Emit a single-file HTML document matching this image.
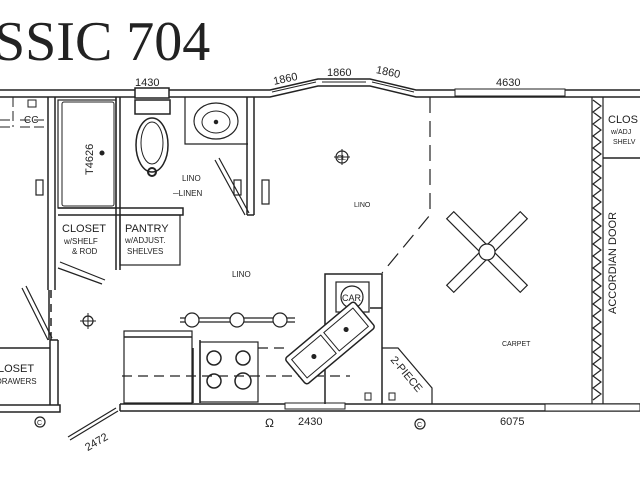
<!DOCTYPE html>
<html><head><meta charset="utf-8"><style>
html,body{margin:0;padding:0;background:#fff;width:640px;height:480px;overflow:hidden}
svg{display:block}
text{font-family:"Liberation Sans",sans-serif;fill:#222}
</style></head><body>
<svg width="640" height="480" viewBox="0 0 640 480" xmlns="http://www.w3.org/2000/svg" stroke="#222" fill="none" stroke-width="1.5">
<text x="-6" y="60" font-size="56" stroke="none" style="font-family:'Liberation Serif',serif">SSIC 704</text>
<!-- top wall -->
<path d="M0 90 H270 L318 79 H370 L416 90 H640 M0 97 H270 L318 86 H370 L416 97 H640" />
<rect x="135" y="88" width="34" height="10" fill="#fff"/>
<path d="M272 92 L316 82 M372 82 L414 92 M322 82 H366" stroke-width="1"/>
<rect x="455" y="89" width="110" height="7" fill="#fff" stroke-width="1"/>
<text x="135" y="86" font-size="11" stroke="none">1430</text>
<text x="273" y="82" font-size="11" stroke="none" transform="rotate(-12 287 78)">1860</text>
<text x="327" y="76" font-size="11" stroke="none">1860</text>
<text x="376" y="76" font-size="11" stroke="none" transform="rotate(12 390 72)">1860</text>
<text x="496" y="86" font-size="11" stroke="none">4630</text>
<!-- bottom wall -->
<path d="M0 405 H60 V412 H0 M120 404 H640 M120 411 H640 M120 404 V411" />
<rect x="285" y="403" width="60" height="6" fill="#fff" stroke-width="1"/>
<rect x="545" y="404" width="95" height="7" fill="#fff" stroke-width="1"/>
<text x="298" y="425" font-size="11" stroke="none">2430</text>
<text x="500" y="425" font-size="11" stroke="none">6075</text>
<path d="M118 411 L70 440 M116 408 L68 437" stroke-width="1.2"/>
<text x="83" y="446" font-size="11" stroke="none" transform="rotate(-30 95 440)">2472</text>
<!-- left -->
<path d="M48 97 V290 M55 97 V290 M49 290 V340" />
<path d="M51 290 V345" stroke-dasharray="8 6"/>
<path d="M0 120 H12 M0 127 H12 M13 97 V127 M20 127 H47 M20 120 H47" stroke-dasharray="10 4" stroke-width="1"/>
<rect x="28" y="100" width="8" height="7" stroke-width="1"/>
<text x="24" y="123" font-size="10" stroke="none">CC</text>
<rect x="36" y="180" width="7" height="15" stroke-width="1.2"/>
<!-- tub -->
<rect x="58" y="100" width="58" height="108" stroke-width="1.2"/>
<rect x="62" y="102" width="52" height="104" rx="2" stroke-width="1"/>
<circle cx="102" cy="153" r="1.8" fill="#222"/>
<text x="0" y="0" font-size="11" stroke="none" transform="translate(93 175) rotate(-90)">T4626</text>
<path d="M116 97 V270 M120 97 V270" />
<path d="M58 208 H183 V215 H58" />
<text x="62" y="232" font-size="11" stroke="none">CLOSET</text>
<text x="64" y="244" font-size="8" stroke="none">w/SHELF</text>
<text x="72" y="254" font-size="8" stroke="none">&amp; ROD</text>
<rect x="120" y="215" width="60" height="50" stroke-width="1.2"/>
<text x="125" y="232" font-size="11" stroke="none">PANTRY</text>
<text x="125" y="243" font-size="8" stroke="none">w/ADJUST.</text>
<text x="127" y="254" font-size="8" stroke="none">SHELVES</text>
<path d="M60 262 L105 280 M58 268 L102 284" stroke-width="1.2"/>
<!-- toilet -->
<rect x="135" y="100" width="35" height="14" stroke-width="1.5"/>
<ellipse cx="152" cy="145" rx="16" ry="27" stroke-width="1.5"/>
<ellipse cx="152" cy="143" rx="11" ry="21" stroke-width="1"/>
<circle cx="152" cy="172" r="4" stroke-width="2"/>
<text x="182" y="181" font-size="8" stroke="none">LINO</text>
<text x="173" y="196" font-size="8" stroke="none">─LINEN</text>
<!-- sink -->
<path d="M185 97 V144 H248" stroke-width="1.2"/>
<ellipse cx="216" cy="121" rx="22" ry="18" stroke-width="1.2"/>
<ellipse cx="216" cy="122" rx="14" ry="11" stroke-width="1"/>
<circle cx="216" cy="122" r="1.5" fill="#222"/>
<path d="M247 97 V215 M254 97 V215 M247 215 H254"/>
<path d="M215 160 L245 215 M219 158 L249 213" stroke-width="1.2"/>
<rect x="234" y="180" width="7" height="15" stroke-width="1.2"/>
<rect x="262" y="180" width="7" height="24" stroke-width="1.2"/>
<text x="232" y="277" font-size="8" stroke="none">LINO</text>
<!-- dividers -->
<path d="M430 97 V215 L382 273" stroke-dasharray="16 8" stroke-width="1.2"/>
<text x="354" y="207" font-size="7" stroke="none">LINO</text>
<circle cx="342" cy="157" r="6" stroke-width="1.2"/>
<path d="M334 157 H350 M342 149 V165" stroke-width="1"/>
<text x="337" y="160" font-size="7" stroke="none">CL</text>
<circle cx="88" cy="321" r="5" stroke-width="1.2"/>
<path d="M80 321 H96 M88 313 V329" stroke-width="1"/>
<!-- closet drawers -->
<path d="M0 348 H50 M50 340 V405 M58 340 V405 M50 340 H58"/>
<path d="M22 288 L48 340 M26 286 L52 338" stroke-width="1.2"/>
<text x="-2" y="372" font-size="11" stroke="none">LOSET</text>
<text x="-4" y="384" font-size="8" stroke="none">DRAWERS</text>
<circle cx="40" cy="422" r="5" stroke-width="1.2"/>
<text x="37" y="425" font-size="7" stroke="none">C</text>
<!-- kitchen -->
<path d="M180 318 H295 M180 322 H295" stroke-width="1.2"/>
<circle cx="192" cy="320" r="7" fill="#fff" stroke-width="1.2"/>
<circle cx="237" cy="320" r="7" fill="#fff" stroke-width="1.2"/>
<circle cx="280" cy="320" r="7" fill="#fff" stroke-width="1.2"/>
<rect x="124" y="331" width="68" height="72" stroke-width="1.2"/>
<path d="M124 337 H192 M193 348 V403 M200 340 V403"/>
<rect x="200" y="342" width="58" height="60" stroke-width="1.2"/>
<circle cx="214" cy="358" r="7" stroke-width="1.5"/><circle cx="243" cy="358" r="7" stroke-width="1.5"/>
<circle cx="214" cy="381" r="7" stroke-width="1.5"/><circle cx="243" cy="381" r="8" stroke-width="1.5"/>
<path d="M258 348 H290 M122 376 H350" stroke-dasharray="10 6" stroke-width="1.2"/>
<path d="M325 404 V274 H382 V404 M325 274 V404 M382 308 H370"/>
<rect x="336" y="282" width="33" height="30" stroke-width="1.2"/>
<circle cx="352" cy="297" r="11" stroke-width="1.2"/>
<text x="342" y="301" font-size="9" stroke="none">CAR</text>
<g transform="translate(330 343) rotate(-40)">
<rect x="-45" y="-17" width="90" height="34" rx="3" fill="#fff" stroke-width="1.5"/>
<rect x="-40" y="-12" width="38" height="24" stroke-width="1"/>
<rect x="2" y="-12" width="38" height="24" stroke-width="1"/>
<circle cx="-21" cy="0" r="1.8" fill="#222"/><circle cx="21" cy="0" r="1.8" fill="#222"/>
</g>
<path d="M382 348 H398 L432 388 V404" stroke-width="1.2"/>
<text x="0" y="0" font-size="11" stroke="none" transform="translate(390 360) rotate(50)">2-PIECE</text>
<rect x="365" y="393" width="6" height="7" stroke-width="1"/>
<rect x="389" y="393" width="6" height="7" stroke-width="1"/>
<circle cx="420" cy="424" r="5" stroke-width="1.2"/>
<text x="417" y="427" font-size="7" stroke="none">C</text>
<text x="265" y="427" font-size="12" stroke="none">Ω</text>
<!-- fan -->
<g transform="translate(487 252)" stroke-width="1.2">
<g transform="rotate(45)"><rect x="-52" y="-5" width="104" height="10" fill="#fff"/></g>
<g transform="rotate(-45)"><rect x="-52" y="-5" width="104" height="10" fill="#fff"/></g>
<circle r="8" fill="#fff"/>
</g>
<text x="502" y="346" font-size="7" stroke="none">CARPET</text>
<!-- accordion -->
<path d="M592 97 V404 M603 97 V404" stroke-width="1.2"/>
<polyline points="593,100 601,106 593,112 601,118 593,124 601,130 593,136 601,142 593,148 601,154 593,160 601,166 593,172 601,178 593,184 601,190 593,196 601,202 593,208 601,214 593,220 601,226 593,232 601,238 593,244 601,250 593,256 601,262 593,268 601,274 593,280 601,286 593,292 601,298 593,304 601,310 593,316 601,322 593,328 601,334 593,340 601,346 593,352 601,358 593,364 601,370 593,376 601,382 593,388 601,394 593,400" stroke-width="1.2"/>
<path d="M603 158 H640"/>
<text x="608" y="123" font-size="11" stroke="none">CLOS</text>
<text x="611" y="134" font-size="7" stroke="none">w/ADJ</text>
<text x="613" y="144" font-size="7" stroke="none">SHELV</text>
<text x="0" y="0" font-size="11" stroke="none" transform="translate(616 314) rotate(-90)">ACCORDIAN DOOR</text>
</svg>
</body></html>
